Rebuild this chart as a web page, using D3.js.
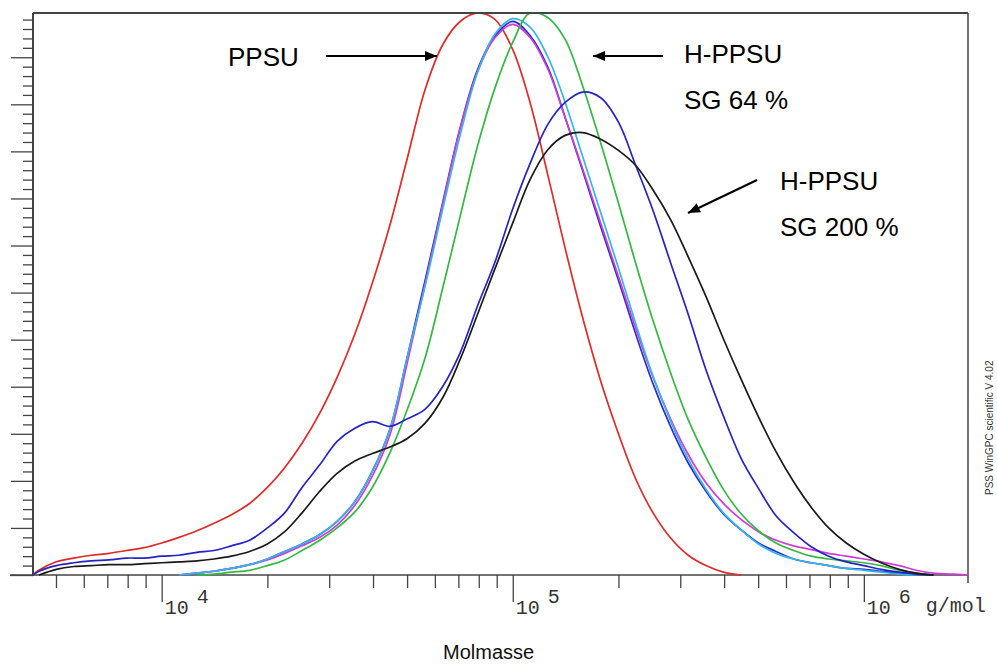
<!DOCTYPE html>
<html>
<head>
<meta charset="utf-8">
<script src="https://cdn.jsdelivr.net/npm/d3@7"></script>
<style>
  body { margin: 0; background: #fff; }
  svg { display: block; }
</style>
</head>
<body>
<div id="chart"></div>
<script>
//Step 1: Data (signal height, arbitrary units)
//molar mass grid (g/mol), shared by all traces
var molmasse = [4300, 4470, 5010, 5620, 6310, 7080, 7940, 8910, 10000, 11200, 12600, 14100, 15800, 17800,
  20000, 22400, 25100, 28200, 31600, 35500, 39800, 44700, 50100, 56200, 63100, 70800, 79400, 89100,
  100000, 112000, 126000, 141000, 158000, 178000, 200000, 224000, 251000, 282000, 316000, 355000,
  398000, 447000, 501000, 562000, 631000, 708000, 794000, 891000, 1000000, 1120000, 1260000,
  1410000, 1580000, 1780000, 1980000];

var ppsu = [0, 5, 14, 18, 21, 23, 26, 29, 34, 40, 47, 55, 64, 76, 93, 114, 140, 172, 210, 256, 310, 372,
  443, 515, 563, 588, 597, 590, 558, 502, 424, 347, 274, 206, 150, 102, 66, 39, 21, 10, 3, 0, null,
  null, null, null, null, null, null, null, null, null, null, null, null];

var blueSmooth = [null, null, null, null, null, null, null, null, null, 0, 2, 4, 7, 11, 17, 25, 33, 43, 57,
  78, 110, 155, 232, 312, 395, 475, 537, 573, 588, 573, 539, 486, 430, 370, 313, 256, 203, 157, 119,
  89, 65, 48, 34, 25, 17, 13, 10, 7, 6, 4, 2, 0, null, null, null];

var magenta = [null, null, null, null, null, null, null, null, null, 0, 2, 4, 7, 11, 16, 23, 31, 40, 53,
  74, 105, 149, 226, 308, 393, 474, 535, 571, 585, 571, 537, 486, 432, 374, 317, 262, 210, 165, 128,
  98, 76, 59, 46, 37, 31, 27, 23, 20, 17, 14, 10, 5, 2, 1, 0];

var cyan = [null, null, null, null, null, null, null, null, null, 0, 2, 4, 7, 11, 17, 25, 33, 43, 57,
  78, 110, 155, 232, 306, 388, 467, 534, 575, 591, 582, 550, 502, 445, 385, 326, 267, 211, 163, 123,
  91, 66, 48, 33, 23, 17, 13, 10, 7, 5, 3, 1, 0, null, null, null];

var green = [null, null, null, null, null, null, null, null, null, null, 0, 1, 3, 5, 10, 16, 26, 37, 50,
  67, 93, 130, 176, 230, 304, 381, 456, 518, 566, 597, 592, 569, 520, 459, 395, 331, 270, 214, 165,
  125, 91, 65, 47, 34, 26, 20, 17, 15, 13, 10, 5, 2, 0, null, null];

var blueNoisy = [0, 4, 10, 13, 15, 16, 18, 18, 20, 21, 24, 26, 31, 37, 50, 66, 93, 117, 142, 156, 163,
  158, 166, 176, 200, 236, 286, 333, 389, 437, 479, 502, 513, 507, 481, 435, 387, 331, 277, 218,
  169, 124, 92, 63, 45, 30, 20, 14, 10, 6, 3, 1, 0, null, null];

var black = [null, 0, 6, 9, 10, 11, 11, 12, 13, 14, 15, 17, 20, 25, 33, 46, 66, 89, 108, 121, 129, 136,
  145, 161, 188, 229, 277, 326, 374, 420, 452, 467, 470, 463, 451, 435, 409, 377, 338, 296, 251,
  208, 168, 131, 99, 72, 50, 34, 22, 13, 6, 2, 0, null, null];

var traces = [
  { values: ppsu, color: "#e02a2a" },
  { values: blueSmooth, color: "#2d2dd2" },
  { values: magenta, color: "#d23cd6" },
  { values: cyan, color: "#34b6e6" },
  { values: green, color: "#33b843" },
  { values: blueNoisy, color: "#2424c4" },
  { values: black, color: "#1a1a1a" }
];

var majorTicks = [10000, 100000, 1000000];
var exponents = ["4", "5", "6"];

//Step 2: set up svg area and margins
var svgWidth = 997;
var svgHeight = 664;
var margin = { top: 13, right: 29, bottom: 89, left: 33 };
var width = svgWidth - margin.left - margin.right;
var height = svgHeight - margin.top - margin.bottom;

var svg = d3.select("#chart")
  .append("svg")
  .attr("width", svgWidth)
  .attr("height", svgHeight);

var chartGroup = svg.append("g")
  .attr("transform", `translate(${margin.left}, ${margin.top})`);

//Step 3: scales
var xLogScale = d3.scaleLog()
  .domain([4300, 1980000])
  .range([0, width]);

var yLinearScale = d3.scaleLinear()
  .domain([0, 597])
  .range([height, 0]);

//Step 4: axes (ticks only, outward)
var xTickValues = [];
[1000, 10000, 100000].forEach(function(dec) {
  for (var k = 2; k <= 9; k++) {
    var v = dec * k;
    if (v >= 4300) xTickValues.push(v);
  }
});
var yTickValues = d3.range(0, 597, 10);

var axisColor = "#444";

var xAxisG = chartGroup.append("g")
  .attr("transform", `translate(0, ${height})`)
  .call(d3.axisBottom(xLogScale).tickValues(xTickValues.concat(majorTicks)).tickFormat("").tickSizeOuter(0));
xAxisG.select(".domain").remove();
xAxisG.selectAll(".tick line")
  .attr("stroke", axisColor)
  .attr("stroke-width", 1.3)
  .attr("y2", d => majorTicks.indexOf(d) >= 0 ? 27 : 13);

var yAxisG = chartGroup.append("g")
  .call(d3.axisLeft(yLinearScale).tickValues(yTickValues).tickFormat("").tickSizeOuter(0));
yAxisG.select(".domain").remove();
yAxisG.selectAll(".tick line")
  .attr("stroke", axisColor)
  .attr("stroke-width", 1.3)
  .attr("x2", d => d === 0 ? -23 : (d % 50 === 0 ? -22 : -10));

//frame lines
chartGroup.append("line")
  .attr("x1", 0).attr("x2", width).attr("y1", 0).attr("y2", 0)
  .attr("stroke", axisColor).attr("stroke-width", 2);
chartGroup.append("line")
  .attr("x1", width).attr("x2", width).attr("y1", 0).attr("y2", height + 8)
  .attr("stroke", axisColor).attr("stroke-width", 1.5);
chartGroup.append("line")
  .attr("x1", 0).attr("x2", 0).attr("y1", 0).attr("y2", height + 1)
  .attr("stroke", axisColor).attr("stroke-width", 2);
chartGroup.append("line")
  .attr("x1", -23).attr("x2", width).attr("y1", height).attr("y2", height)
  .attr("stroke", axisColor).attr("stroke-width", 1.5);

//Step 5: tick labels 10^n and unit
var monoFont = "'Liberation Mono', 'Courier New', monospace";
majorTicks.forEach(function(t, i) {
  chartGroup.append("text")
    .attr("x", xLogScale(t) + 3)
    .attr("y", height + 39)
    .attr("font-family", monoFont)
    .attr("font-size", 20)
    .attr("fill", "#333")
    .text("10");
  chartGroup.append("text")
    .attr("x", xLogScale(t) + 35)
    .attr("y", height + 28)
    .attr("font-family", monoFont)
    .attr("font-size", 20)
    .attr("fill", "#333")
    .text(exponents[i]);
});
chartGroup.append("text")
  .attr("x", xLogScale(1000000) + 62)
  .attr("y", height + 37)
  .attr("font-family", monoFont)
  .attr("font-size", 20)
  .attr("fill", "#333")
  .text("g/mol");

//axis title
svg.append("text")
  .attr("x", 443)
  .attr("y", 659)
  .attr("font-family", "'Liberation Sans', Arial, sans-serif")
  .attr("font-size", 20)
  .attr("fill", "#111")
  .text("Molmasse");

//software stamp on the right
svg.append("text")
  .attr("transform", "translate(993, 495) rotate(-90)")
  .attr("font-family", "'Liberation Sans', Arial, sans-serif")
  .attr("font-size", 10)
  .attr("fill", "#333")
  .text("PSS WinGPC scientific  V 4.02");

//Step 6: traces
svg.append("defs").append("clipPath")
  .attr("id", "plotClip")
  .append("rect")
  .attr("x", 0).attr("y", 1).attr("width", width).attr("height", height);

var lineGen = d3.line()
  .defined(d => d.v !== null)
  .x(d => xLogScale(d.m))
  .y(d => yLinearScale(d.v))
  .curve(d3.curveCatmullRom.alpha(0.5));

var traceGroup = chartGroup.append("g").attr("clip-path", "url(#plotClip)");
traces.forEach(function(tr) {
  var pts = molmasse.map((m, i) => ({ m: m, v: tr.values[i] }));
  traceGroup.append("path")
    .datum(pts)
    .attr("fill", "none")
    .attr("stroke", tr.color)
    .attr("stroke-width", 1.7)
    .attr("stroke-linejoin", "round")
    .attr("d", lineGen);
});

//Step 7: annotations with arrows
var defs = svg.select("defs");
defs.append("marker")
  .attr("id", "arrowHead")
  .attr("viewBox", "0 0 12 10")
  .attr("refX", 12).attr("refY", 5)
  .attr("markerWidth", 12).attr("markerHeight", 10)
  .attr("markerUnits", "userSpaceOnUse")
  .attr("orient", "auto")
  .append("path")
  .attr("d", "M0,0 L12,5 L0,10 Z")
  .attr("fill", "#000");

var sansFont = "'Liberation Sans', Arial, sans-serif";
var labels = [
  { text: "PPSU", x: 228, y: 66 },
  { text: "H-PPSU", x: 684, y: 63 },
  { text: "SG 64 %", x: 684, y: 109 },
  { text: "H-PPSU", x: 780, y: 190 },
  { text: "SG 200 %", x: 780, y: 236 }
];
labels.forEach(function(l) {
  svg.append("text")
    .attr("x", l.x).attr("y", l.y)
    .attr("font-family", sansFont)
    .attr("font-size", 26)
    .attr("fill", "#000")
    .text(l.text);
});

var arrows = [
  [326, 56, 437, 56],
  [663, 56, 593, 56],
  [757, 180, 688, 213]
];
arrows.forEach(function(a) {
  svg.append("line")
    .attr("x1", a[0]).attr("y1", a[1]).attr("x2", a[2]).attr("y2", a[3])
    .attr("stroke", "#000")
    .attr("stroke-width", 2)
    .attr("marker-end", "url(#arrowHead)");
});
</script>
</body>
</html>
